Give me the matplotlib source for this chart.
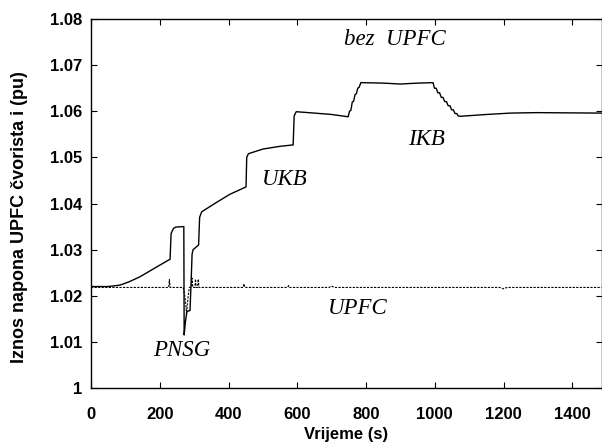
import matplotlib.pyplot as plt

# Napon bez UPFC-a (puna linija)
t_bez = [0, 50, 84, 110, 142, 181, 227, 230, 233, 240, 247, 270,
         271, 274, 276, 279, 288, 291, 294, 297, 305, 313, 316, 322,
         360, 404, 451, 453, 458, 500, 550, 588, 591, 597, 650, 700, 748,
         752, 756, 760, 764, 768, 772, 776, 780, 785, 790,
         850, 900, 950, 995,
         999, 1004, 1009, 1014, 1019, 1024, 1029, 1034, 1039, 1044, 1049,
         1054, 1059, 1064, 1068, 1073,
         1150, 1220, 1295, 1485]
v_bez = [1.0220, 1.0220, 1.0223, 1.0230, 1.0241, 1.0258, 1.0278, 1.0279, 1.0335, 1.0346, 1.0349, 1.0350,
         1.0115, 1.0140, 1.0150, 1.0166, 1.0168, 1.0225, 1.0290, 1.0300, 1.0305, 1.0310, 1.0370, 1.0382,
         1.0400, 1.0420, 1.0436, 1.0500, 1.0508, 1.0518, 1.0524, 1.0527, 1.0590, 1.0599, 1.0596, 1.0593, 1.0588,
         1.0600, 1.0602, 1.0620, 1.0622, 1.0636, 1.0638, 1.0650, 1.0652, 1.0662, 1.0662,
         1.0661, 1.0659, 1.0661, 1.0662,
         1.0650, 1.0650, 1.0640, 1.0640, 1.0630, 1.0630, 1.0621, 1.0621, 1.0612, 1.0612, 1.0603,
         1.0603, 1.0595, 1.0595, 1.0590, 1.0589,
         1.0593, 1.0596, 1.0597, 1.0596]

# Napon s UPFC-om (isprekidana linija)
t_upfc = [0, 226, 228, 230, 268, 274, 278, 282, 286, 292, 294, 296,
          302, 304, 306, 310, 312, 314, 443, 445, 447, 572, 575, 578,
          692, 700, 708, 1190, 1200, 1210, 1485]
v_upfc = [1.0218, 1.0218, 1.0235, 1.0218, 1.0218, 1.0195, 1.0160, 1.0195, 1.0218, 1.0218, 1.0238, 1.0218,
          1.0218, 1.0236, 1.0218, 1.0218, 1.0236, 1.0218, 1.0218, 1.0226, 1.0218, 1.0218, 1.0222, 1.0218,
          1.0218, 1.0221, 1.0218, 1.0218, 1.0215, 1.0218, 1.0218]

x_ticks = [0, 200, 400, 600, 800, 1000, 1200, 1400]
y_ticks = [1.0, 1.01, 1.02, 1.03, 1.04, 1.05, 1.06, 1.07, 1.08]
y_tick_labels = ['1', '1.01', '1.02', '1.03', '1.04', '1.05', '1.06', '1.07', '1.08']

fig = plt.figure(figsize=(6.02, 4.44), dpi=100)
ax = fig.add_axes([91 / 602, 1 - 388 / 444, 510.5 / 602, 369 / 444])

ax.plot(t_upfc, v_upfc, color='black', lw=0.8, linestyle=(0, (2.0, 1.2)))
ax.plot(t_bez, v_bez, color='black', lw=1.0)

ax.set_xlim(0, 1485)
ax.set_ylim(1.0, 1.08)
ax.set_xticks(x_ticks)
ax.set_yticks(y_ticks)
ax.set_yticklabels(y_tick_labels)

for lab in ax.get_xticklabels() + ax.get_yticklabels():
    lab.set_fontfamily('Liberation Sans')
    lab.set_fontweight('bold')
    lab.set_fontsize(12)

ax.tick_params(direction='in', length=4, width=0.8, top=True, right=True)
ax.tick_params(axis='x', pad=14)
ax.tick_params(axis='y', pad=6)
for s in ax.spines.values():
    s.set_linewidth(1.0)

ax.set_xlabel('Vrijeme (s)', fontfamily='Liberation Sans', fontweight='bold', fontsize=12, labelpad=3)
ax.set_ylabel('Iznos napona UPFC čvorista i (pu)', fontfamily='Liberation Sans',
              fontweight='bold', fontsize=13)
ax.yaxis.set_label_coords(-0.123, 0.463)

# Oznake krivulja i dogadjaja
lab_font = dict(family='Liberation Serif', style='italic', fontsize=16.5, ha='center', va='center')
ax.text(884, 1.0755, 'bez  UPFC', **lab_font)
ax.text(977, 1.0538, 'IKB', **lab_font)
ax.text(563, 1.0451, 'UKB', **lab_font)
ax.text(265, 1.0082, 'PNSG', **lab_font)
ax.text(775, 1.0173, 'UPFC', **lab_font)

fig.savefig('out.png', dpi=100)
